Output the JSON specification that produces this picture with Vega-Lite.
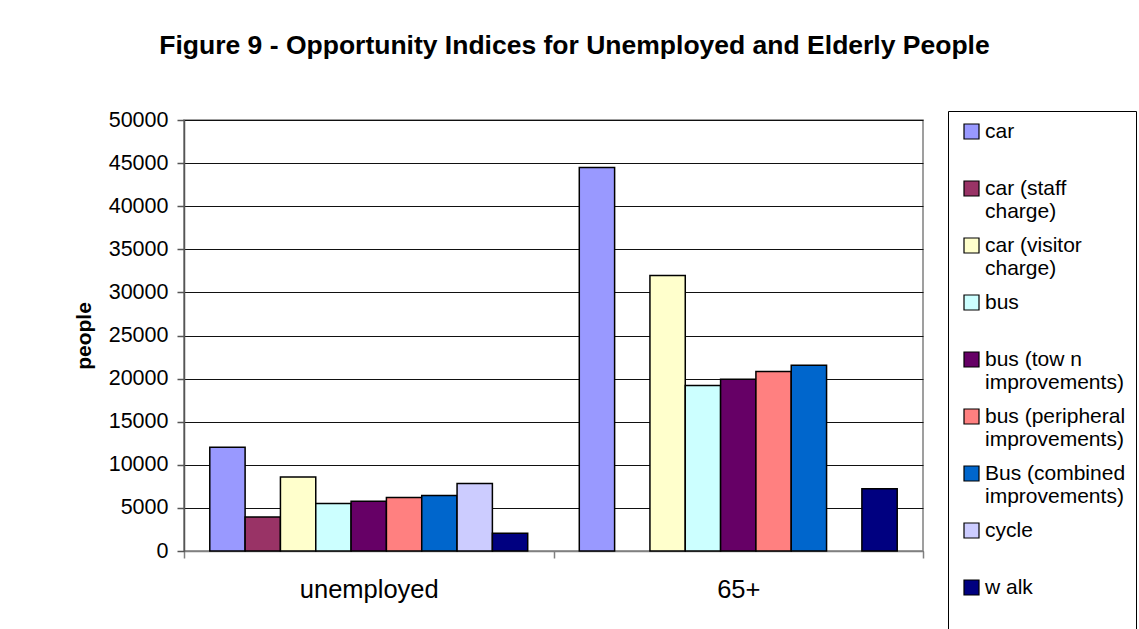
{
  "$schema": "https://vega.github.io/schema/vega-lite/v6.json",
  "autosize": {"type": "none"},
  "width": 739,
  "height": 431,
  "padding": {"left": 184, "top": 120, "right": 216, "bottom": 78},
  "background": "white",
  "title": {
    "text": "Figure 9 - Opportunity Indices for Unemployed and Elderly People",
    "font": "Liberation Sans",
    "fontSize": 26.5,
    "fontWeight": "bold",
    "color": "#000",
    "anchor": "middle",
    "dx": 21,
    "offset": 50
  },
  "data": {
    "values": [
      {"group": "unemployed", "mode": "car", "value": 12050},
      {"group": "unemployed", "mode": "car (staff charge)", "value": 3950},
      {"group": "unemployed", "mode": "car (visitor charge)", "value": 8580},
      {"group": "unemployed", "mode": "bus", "value": 5520},
      {"group": "unemployed", "mode": "bus (tow n improvements)", "value": 5760},
      {"group": "unemployed", "mode": "bus (peripheral improvements)", "value": 6220},
      {"group": "unemployed", "mode": "Bus (combined improvements)", "value": 6450},
      {"group": "unemployed", "mode": "cycle", "value": 7840},
      {"group": "unemployed", "mode": "w alk", "value": 2050},
      {"group": "65+", "mode": "car", "value": 44480},
      {"group": "65+", "mode": "car (visitor charge)", "value": 31970},
      {"group": "65+", "mode": "bus", "value": 19190},
      {"group": "65+", "mode": "bus (tow n improvements)", "value": 19920},
      {"group": "65+", "mode": "bus (peripheral improvements)", "value": 20810},
      {"group": "65+", "mode": "Bus (combined improvements)", "value": 21540},
      {"group": "65+", "mode": "w alk", "value": 7230}
    ]
  },
  "mark": {"type": "bar", "stroke": "#000", "strokeWidth": 1.5},
  "encoding": {
    "x": {
      "field": "group",
      "type": "nominal",
      "sort": ["unemployed", "65+"],
      "scale": {"paddingInner": 0, "paddingOuter": 0},
      "axis": {
        "title": null,
        "labelAngle": 0,
        "labelFont": "Liberation Sans",
        "labelFontSize": 25.5,
        "labelColor": "#000",
        "labelPadding": 19,
        "tickBand": "extent",
        "tickSize": 7,
        "tickColor": "#808080",
        "tickWidth": 1.5,
        "domainColor": "#808080",
        "domainWidth": 1.5,
        "grid": false
      }
    },
    "xOffset": {
      "field": "mode",
      "type": "nominal",
      "sort": ["car", "car (staff charge)", "car (visitor charge)", "bus", "bus (tow n improvements)", "bus (peripheral improvements)", "Bus (combined improvements)", "cycle", "w alk"],
      "scale": {"paddingInner": 0, "paddingOuter": 0.73}
    },
    "y": {
      "field": "value",
      "type": "quantitative",
      "scale": {"domain": [0, 50000], "nice": false},
      "axis": {
        "title": "people",
        "titleFont": "Liberation Sans",
        "titleFontSize": 21,
        "titleFontWeight": "bold",
        "titleColor": "#000",
        "titlePadding": 14,
        "values": [0, 5000, 10000, 15000, 20000, 25000, 30000, 35000, 40000, 45000, 50000],
        "format": "d",
        "labelFont": "Liberation Sans",
        "labelFontSize": 21.5,
        "labelColor": "#000",
        "labelPadding": 9,
        "tickSize": 7,
        "tickColor": "#555",
        "tickWidth": 1.5,
        "domainColor": "#555",
        "domainWidth": 1.5,
        "gridColor": "#111",
        "gridWidth": 1,
        "gridOpacity": 1
      }
    },
    "fill": {
      "field": "mode",
      "type": "nominal",
      "scale": {
        "domain": ["car", "car (staff charge)", "car (visitor charge)", "bus", "bus (tow n improvements)", "bus (peripheral improvements)", "Bus (combined improvements)", "cycle", "w alk"],
        "range": ["#9999FF", "#993366", "#FFFFCC", "#CCFFFF", "#660066", "#FF8080", "#0066CC", "#CCCCFF", "#000080"]
      },
      "legend": {
        "title": null,
        "orient": "none",
        "legendX": 764,
        "legendY": -9,
        "direction": "vertical",
        "columns": 1,
        "padding": 10,
        "strokeColor": "#000",
        "fillColor": "#fff",
        "symbolType": "square",
        "symbolSize": 225,
        "symbolStrokeColor": "#000",
        "symbolStrokeWidth": 1.2,
        "symbolOpacity": 1,
        "symbolOffset": 3,
        "labelOffset": 3,
        "labelFont": "Liberation Sans",
        "labelFontSize": 21,
        "labelColor": "#000",
        "labelBaseline": "top",
        "labelLimit": 400,
        "rowPadding": 12,
        "labelExpr": "datum.label == 'car (staff charge)' ? ['car (staff', 'charge)'] : datum.label == 'car (visitor charge)' ? ['car (visitor', 'charge)'] : datum.label == 'bus (tow n improvements)' ? ['bus (tow n', 'improvements)'] : datum.label == 'bus (peripheral improvements)' ? ['bus (peripheral', 'improvements)'] : datum.label == 'Bus (combined improvements)' ? ['Bus (combined', 'improvements)'] : [datum.label, '']",
        "encode": {
          "labels": {"update": {"dy": {"value": -11}, "lineHeight": {"value": 23}}}
        }
      }
    }
  },
  "config": {
    "view": {"stroke": "#808080", "strokeWidth": 1.5}
  }
}
